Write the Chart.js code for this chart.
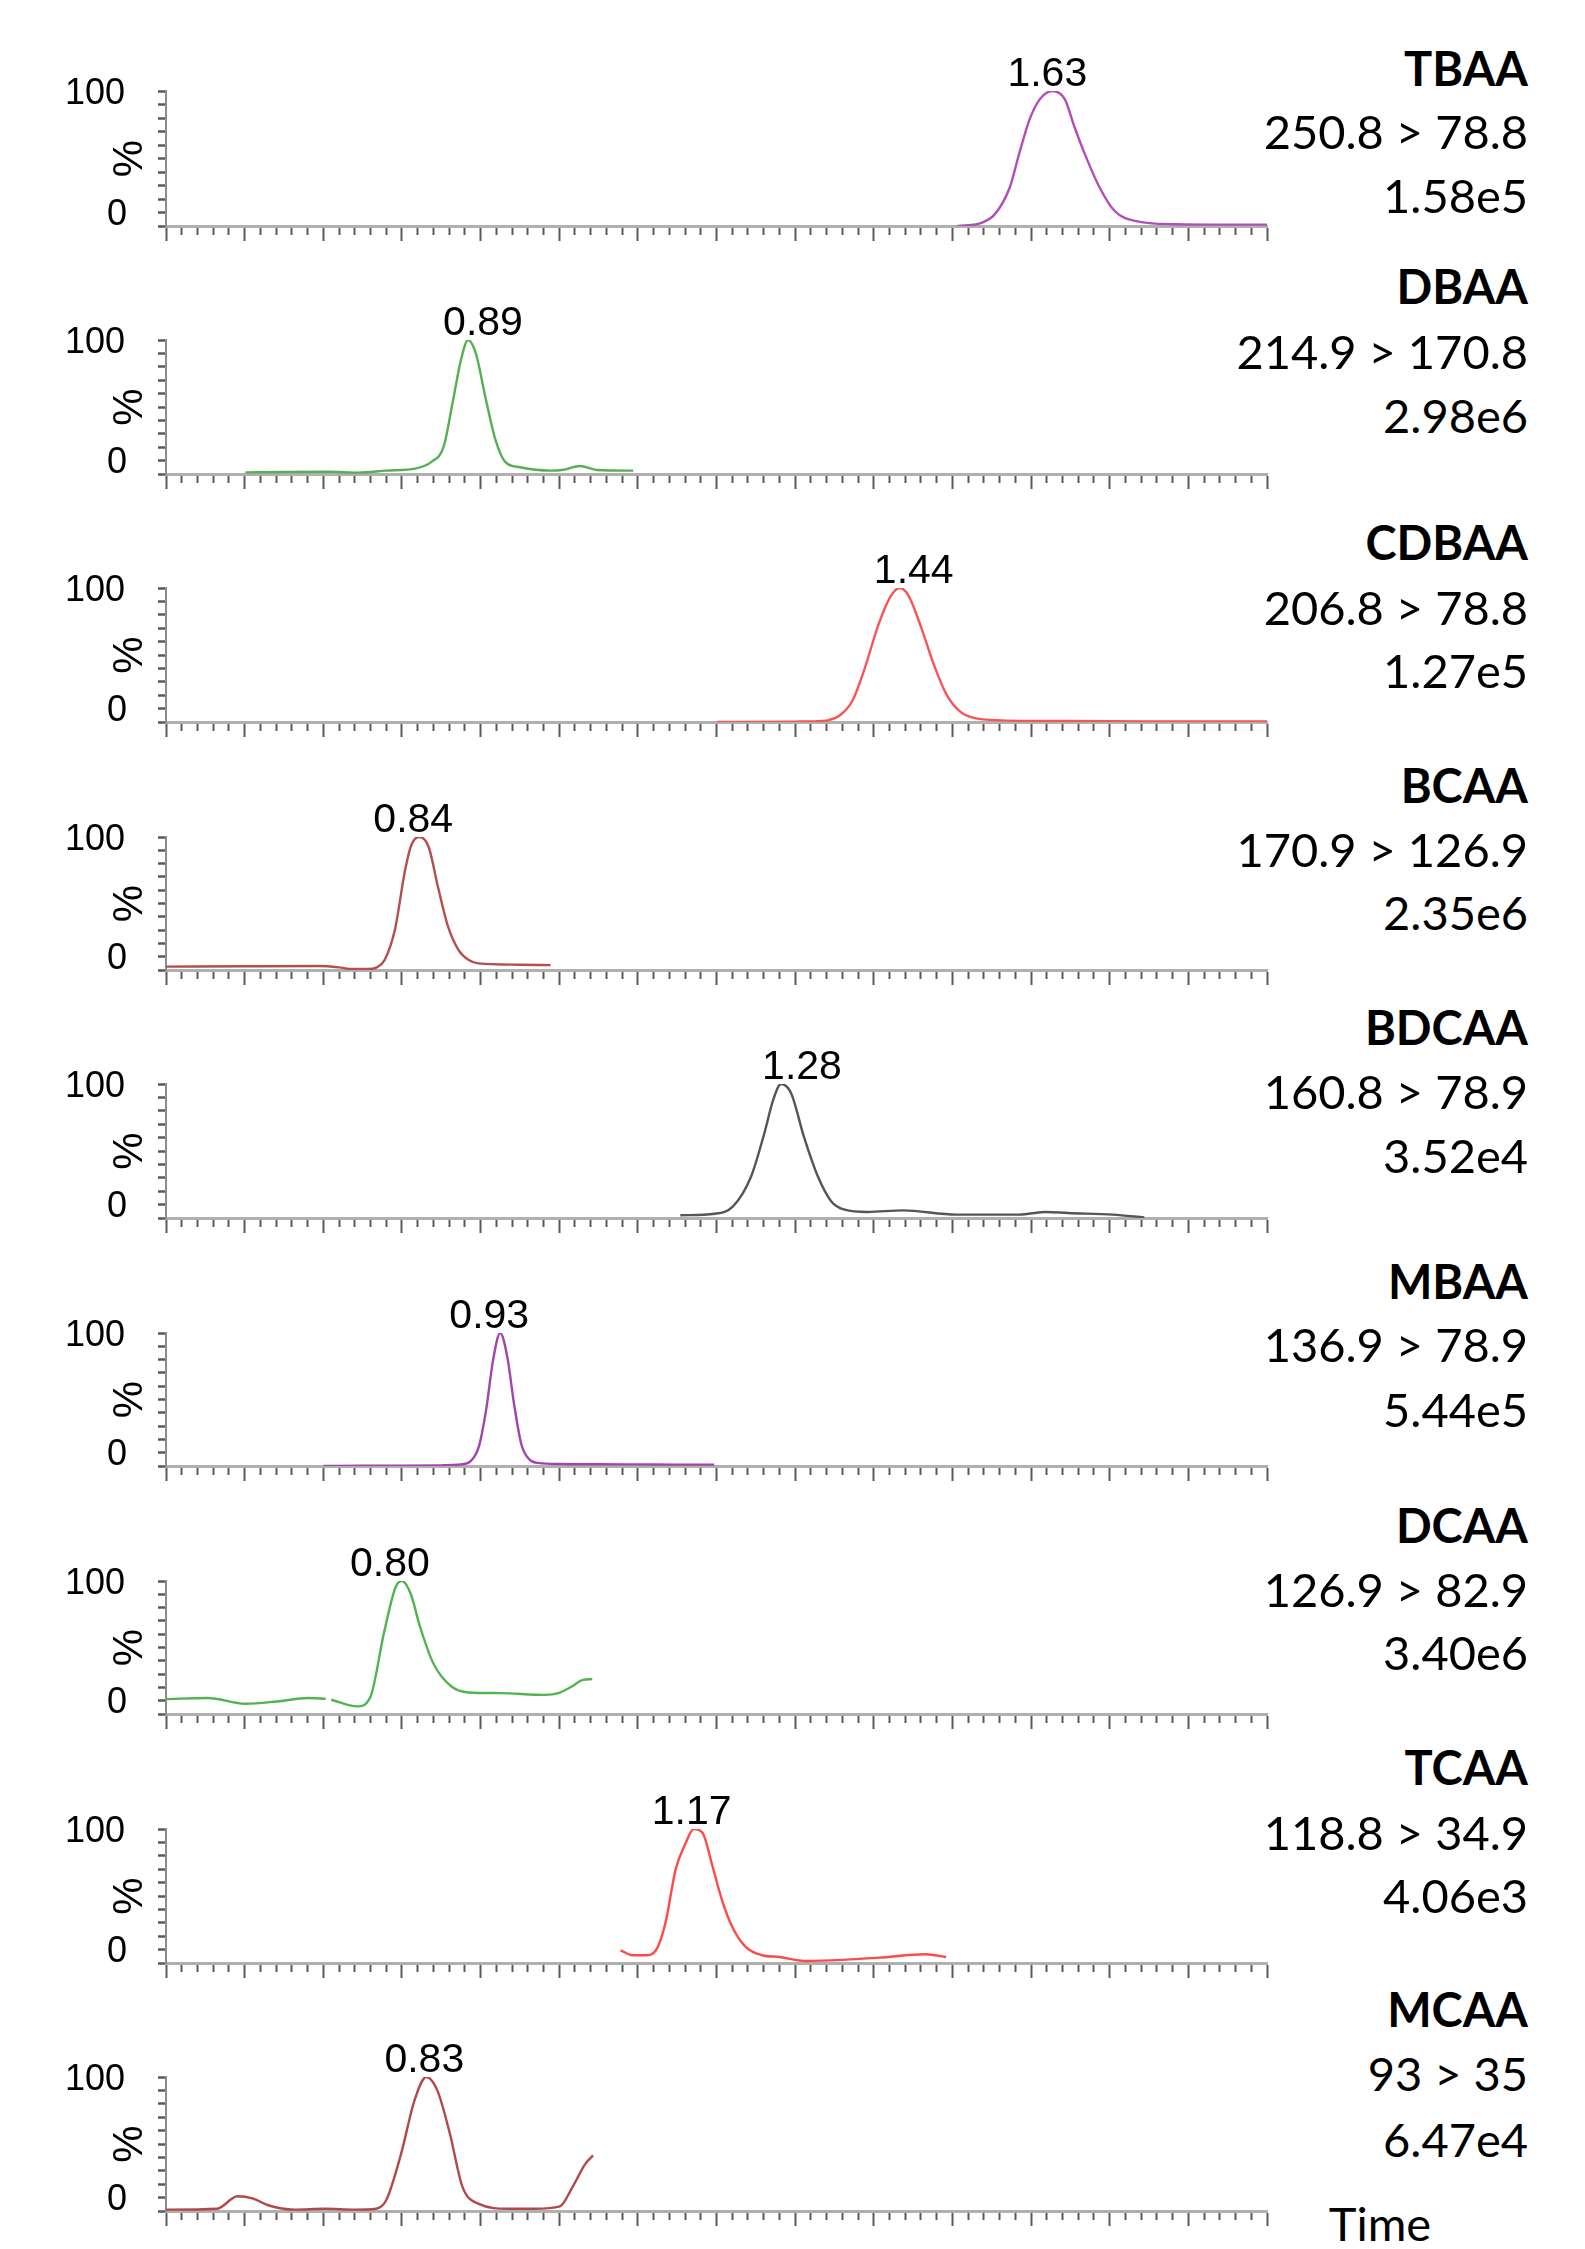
<!DOCTYPE html>
<html>
<head>
<meta charset="utf-8">
<script src="https://cdn.jsdelivr.net/npm/chart.js@4.4.1/dist/chart.umd.min.js"></script>
<style>
  html, body { margin: 0; padding: 0; background: #fff; }
  body { width: 1585px; height: 2249px; position: relative; overflow: hidden; }
  canvas.panel { position: absolute; left: 0; }
  .rt { position: absolute; right: 57px; font-family: Lato, "Open Sans", sans-serif; font-size: 47px; line-height: 1; transform: translateY(-50%); white-space: pre; color: #000; }
  .rt.name { font-weight: bold; }
  .time { position: absolute; font-family: Lato, "Open Sans", sans-serif; font-size: 47px; line-height: 1; transform: translate(-50%, -50%); color: #000; }
</style>
</head>
<body>
<script>
// ---------------- DATA ----------------
const compounds   = ['TBAA', 'DBAA', 'CDBAA', 'BCAA', 'BDCAA', 'MBAA', 'DCAA', 'TCAA', 'MCAA'];
const transitions = ['250.8 > 78.8', '214.9 > 170.8', '206.8 > 78.8', '170.9 > 126.9', '160.8 > 78.9', '136.9 > 78.9', '126.9 > 82.9', '118.8 > 34.9', '93 > 35'];
const intensities = ['1.58e5', '2.98e6', '1.27e5', '2.35e6', '3.52e4', '5.44e5', '3.40e6', '4.06e3', '6.47e4'];
const retentionLabels = ['1.63', '0.89', '1.44', '0.84', '1.28', '0.93', '0.80', '1.17', '0.83'];
const yTickLabels = ['0', '100'];
const yAxisTitle = '%';
const xAxisTitle = 'Time';

const tbaaTime = [1.506, 1.52, 1.534, 1.554, 1.573, 1.585, 1.598, 1.611, 1.627, 1.643, 1.655, 1.668, 1.687, 1.706, 1.732, 1.783, 1.85, 1.901];
const tbaaInt  = [0, 0.6, 1.7, 8.8, 28.7, 53.8, 78.8, 93.8, 100, 93.8, 73.7, 53.8, 28.7, 11.3, 3.8, 1.3, 1.0, 1.0];

const dbaaTime = [0.601, 0.65, 0.706, 0.745, 0.780, 0.818, 0.838, 0.853, 0.865, 0.875, 0.884, 0.894, 0.906, 0.919, 0.931, 0.950, 0.989, 1.006, 1.026, 1.048, 1.094];
const dbaaInt  = [1.2, 1.5, 1.7, 1.0, 2.5, 4.2, 9.2, 20.4, 55, 85, 100, 90, 57.7, 25.4, 9.2, 5, 2.5, 3.2, 6, 3, 2.5];

const cdbaaTime = [1.201, 1.30, 1.325, 1.341, 1.357, 1.373, 1.389, 1.405, 1.421, 1.433, 1.444, 1.460, 1.476, 1.492, 1.508, 1.526, 1.563, 1.643, 1.75, 1.901];
const cdbaaInt  = [0, 0.3, 0.5, 1.2, 5, 16, 41, 71, 93.3, 100, 94.5, 71, 43.5, 21, 8.7, 3.2, 1.2, 0.7, 0.5, 0.5];

const bcaaTime = [0.500, 0.60, 0.694, 0.72, 0.736, 0.757, 0.768, 0.778, 0.791, 0.804, 0.812, 0.822, 0.834, 0.846, 0.859, 0.872, 0.885, 0.897, 0.948, 0.989];
const bcaaInt  = [2.5, 2.8, 3.0, 2.0, 0.7, 0.7, 2, 7.5, 30, 75, 94, 100, 92.5, 62, 32, 15, 7.5, 5, 4, 3.7];

const bdcaaTime = [1.154, 1.198, 1.221, 1.244, 1.261, 1.272, 1.282, 1.295, 1.311, 1.329, 1.346, 1.363, 1.392, 1.437, 1.505, 1.585, 1.619, 1.647, 1.704, 1.744];
const bdcaaInt  = [2, 3.2, 8.7, 31, 63.6, 88, 100, 93, 61, 31, 12.4, 6.2, 4.5, 5.7, 2.5, 2.5, 4.5, 3.7, 2.5, 0.5];

const mbaaTime = [0.70, 0.75, 0.80, 0.85, 0.875, 0.888, 0.898, 0.907, 0.916, 0.925, 0.934, 0.943, 0.952, 0.962, 0.975, 1.00, 1.05, 1.10, 1.15, 1.197];
const mbaaInt  = [0, 0.2, 0.3, 0.5, 1.2, 4, 15, 42, 80, 100, 82, 45, 16, 5, 2.2, 1.5, 1.3, 1.2, 1.0, 1.0];

const dcaaTime = [0.499, 0.553, 0.601, 0.641, 0.681, 0.703, 0.706, 0.710, 0.743, 0.760, 0.777, 0.792, 0.800, 0.811, 0.823, 0.840, 0.863, 0.885, 0.925, 0.982, 0.999, 1.016, 1.030, 1.042];
const dcaaInt  = [11.2, 12, 7.7, 9.4, 12, 11.5, null, 10.7, 5.7, 13, 60.6, 95.5, 100, 90.6, 65.6, 38, 20.7, 16.2, 15.7, 14.4, 15.7, 20.7, 25.7, 26.2];

const tcaaTime = [1.078, 1.093, 1.110, 1.123, 1.135, 1.148, 1.161, 1.171, 1.182, 1.195, 1.207, 1.220, 1.237, 1.258, 1.280, 1.314, 1.365, 1.407, 1.466, 1.492];
const tcaaInt  = [9.5, 5.8, 5.8, 9.5, 29.6, 69.7, 89.8, 100, 97.3, 72, 47, 27, 12, 5.8, 4.5, 1.5, 2.5, 4, 6.5, 4.5];

const mcaaTime = [0.500, 0.565, 0.591, 0.611, 0.630, 0.663, 0.702, 0.741, 0.767, 0.780, 0.799, 0.816, 0.831, 0.845, 0.861, 0.877, 0.897, 0.936, 0.968, 1.001, 1.017, 1.033, 1.043];
const mcaaInt  = [1, 1.7, 11, 9.2, 4.3, 1, 1.7, 1, 1.7, 8, 42.8, 82.6, 100, 90, 57.7, 18, 5.5, 1.7, 1.7, 3.5, 18, 35, 41.5];

const seriesTimes = [tbaaTime, dbaaTime, cdbaaTime, bcaaTime, bdcaaTime, mbaaTime, dcaaTime, tcaaTime, mcaaTime];
const seriesInts  = [tbaaInt, dbaaInt, cdbaaInt, bcaaInt, bdcaaInt, mbaaInt, dcaaInt, tcaaInt, mcaaInt];

const xMin = 0.5, xMax = 1.9, xMinorStep = 0.02;
const yMin = 0, yMax = 100, yStep = 10;

// ---------------- LAYOUT / STYLE ----------------
const colors = ['#b04fb8', '#55b055', '#f75555', '#b3504e', '#555555', '#a443b0', '#52b352', '#ff4a4a', '#b04a4a'];
const plotLeft = 166, plotRight = 1267;
const plotTop    = [91, 340, 588, 837, 1084, 1333, 1581, 1829, 2077];
const plotBottom = [226, 474, 722, 970, 1218, 1466, 1714, 1963, 2211];
const nameY  = [68, 286, 542, 785, 1027, 1281, 1525, 1767, 2009];
const transY = [131, 351, 607, 849, 1091, 1344, 1589, 1832, 2073];
const intY   = [195, 415, 670, 912, 1155, 1409, 1652, 1895, 2139];
const labelDx = [-5, 15, 14, -6, 21, -11, -12, -2, -2];
const PAD_TOP = 70, XAXIS_H = 20, CANVAS_W = 1300;

const panelText = {
  id: 'panelText',
  afterDatasetsDraw(chart, args, opts) {
    const {ctx} = chart;
    const x = chart.scales.x, y = chart.scales.y;
    const k = opts.index;
    ctx.save();
    ctx.fillStyle = '#000';
    ctx.font = '36px "Liberation Sans", Arial, sans-serif';
    ctx.textAlign = 'right';
    ctx.textBaseline = 'middle';
    ctx.fillText(yTickLabels[1], 125, y.getPixelForValue(yMax) + 3);
    ctx.fillText(yTickLabels[0], 127, y.getPixelForValue(yMin) - 11);
    ctx.save();
    ctx.translate(130, (y.top + y.bottom) / 2);
    ctx.rotate(-Math.PI / 2);
    ctx.textAlign = 'center';
    ctx.font = '42px "Liberation Sans", Arial, sans-serif';
    ctx.fillText(yAxisTitle, 0, 0);
    ctx.restore();
    // retention time label at the apex
    const t = seriesTimes[k], v = seriesInts[k];
    let best = 0;
    for (let i = 0; i < v.length; i++) if (v[i] !== null && v[i] > v[best]) best = i;
    const px = x.getPixelForValue(t[best]);
    const py = y.getPixelForValue(v[best]);
    ctx.font = '41px "Liberation Sans", Arial, sans-serif';
    ctx.textAlign = 'center';
    ctx.textBaseline = 'alphabetic';
    ctx.fillText(retentionLabels[k], px + labelDx[k], py - 5);
    ctx.restore();
  }
};

function isMajor(v) {
  return Math.abs(Math.round(v * 10) - v * 10) < 1e-6;
}

compounds.forEach((name, k) => {
  const h = PAD_TOP + (plotBottom[k] - plotTop[k]) + XAXIS_H;
  const cv = document.createElement('canvas');
  cv.className = 'panel';
  cv.width = CANVAS_W; cv.height = h;
  cv.style.width = CANVAS_W + 'px'; cv.style.height = h + 'px';
  cv.style.top = (plotTop[k] - PAD_TOP) + 'px';
  document.body.appendChild(cv);

  const pts = seriesTimes[k].map((t, i) => ({x: t, y: seriesInts[k][i]}));

  new Chart(cv.getContext('2d'), {
    type: 'line',
    data: {
      datasets: [{
        label: name,
        data: pts,
        borderColor: colors[k],
        borderWidth: 2.4,
        pointRadius: 0,
        fill: false,
        cubicInterpolationMode: 'monotone',
        spanGaps: false
      }]
    },
    options: {
      responsive: false,
      animation: false,
      devicePixelRatio: 1,
      events: [],
      layout: { padding: { left: 0, right: CANVAS_W - plotRight, top: PAD_TOP, bottom: 0 } },
      plugins: {
        legend: { display: false },
        tooltip: { enabled: false },
        panelText: { index: k }
      },
      scales: {
        x: {
          type: 'linear',
          min: xMin, max: xMax,
          ticks: { stepSize: xMinorStep, display: false, autoSkip: false, maxTicksLimit: 500 },
          grid: {
            drawOnChartArea: false,
            drawTicks: true,
            tickLength: 15,
            tickWidth: 2,
            tickColor: '#5a5a5a',
            tickBorderDash: (c) => (c.tick && isMajor(c.tick.value)) ? [] : [7, 100]
          },
          border: { display: true, color: '#b0b0b0', width: 3 },
          afterFit: (s) => { s.height = XAXIS_H; }
        },
        y: {
          min: yMin, max: yMax,
          ticks: { stepSize: yStep, display: false },
          grid: { drawOnChartArea: false, drawTicks: true, tickLength: 8, tickWidth: 2.5, tickColor: '#5a5a5a' },
          border: { display: true, color: '#8c8c8c', width: 2 },
          afterFit: (s) => { s.width = plotLeft; }
        }
      }
    },
    plugins: [panelText]
  });

  const mk = (cls, text, top) => {
    const d = document.createElement('div');
    d.className = cls;
    d.textContent = text;
    d.style.top = top + 'px';
    document.body.appendChild(d);
  };
  mk('rt name', name, nameY[k]);
  mk('rt', transitions[k], transY[k]);
  mk('rt', intensities[k], intY[k]);
});

const tl = document.createElement('div');
tl.className = 'time';
tl.textContent = xAxisTitle;
tl.style.left = '1380px';
tl.style.top = '2223px';
document.body.appendChild(tl);
</script>
</body>
</html>
